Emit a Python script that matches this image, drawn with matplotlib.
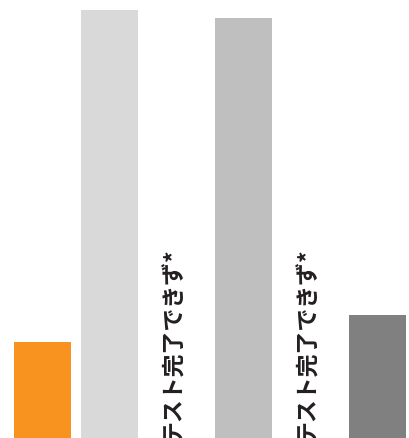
import matplotlib
matplotlib.use("Agg")
import matplotlib.pyplot as plt
import numpy as np

plt.rcParams['font.family'] = ['Noto Sans CJK JP', 'DejaVu Sans']

slots = [0, 1, 2, 3, 4, 5]
values = [22.4, 100.0, np.nan, 98.1, np.nan, 28.7]
colors = ['#F7931E', '#D9D9D9', '#FFFFFF', '#BFBFBF', '#FFFFFF', '#808080']
label_text = 'テスト完了できず*'
label_slots = [2, 4]
label_y = 44.6

fig = plt.figure(figsize=(4.10, 4.39), dpi=100)
ax = fig.add_axes([0, 0, 1, 1])
xs = np.array(slots, dtype=float)
vals = np.array(values, dtype=float)
mask = ~np.isnan(vals)
ax.bar(xs[mask], vals[mask], width=0.85, color=[c for c, m in zip(colors, mask) if m])
for s in label_slots:
    ax.text(s - 0.04, label_y, label_text, rotation=90, ha='center', va='top',
            fontsize=16.5, fontweight='bold', color='#231F20')
ax.set_xlim(-0.6314, 5.4816)
ax.set_ylim(0, 102.57)
ax.axis('off')
fig.savefig('out.png', dpi=100)
